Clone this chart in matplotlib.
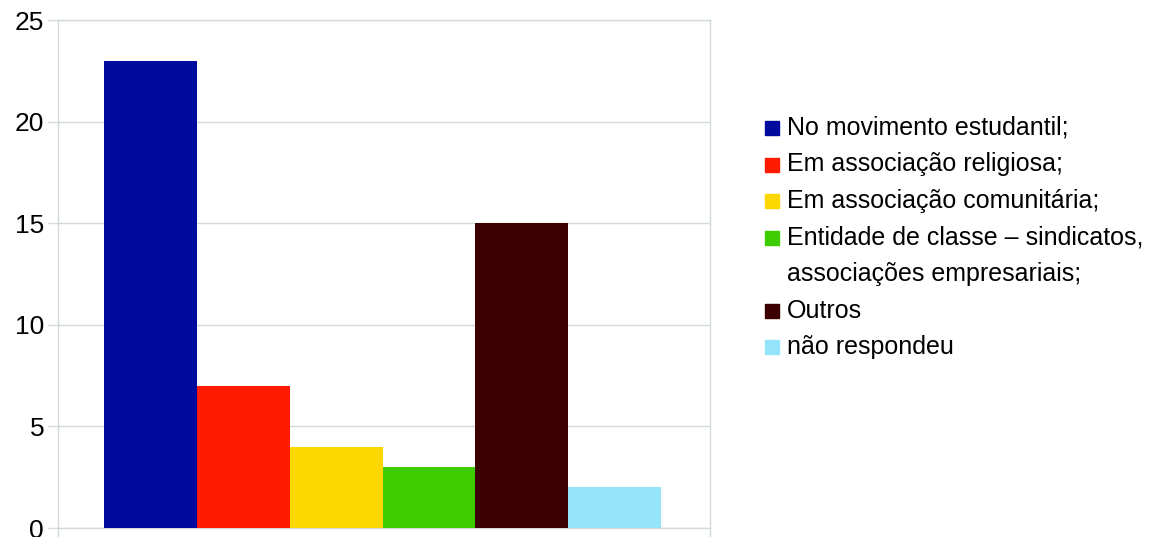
import matplotlib
matplotlib.use('Agg')
import matplotlib.pyplot as plt
from matplotlib.patches import Rectangle

# Dados do gráfico
categorias = ['No movimento estudantil;',
              'Em associação religiosa;',
              'Em associação comunitária;',
              'Entidade de classe – sindicatos,\nassociações empresariais;',
              'Outros',
              'não respondeu']
valores = [23, 7, 4, 3, 15, 2]
cores = ['#000a9c', '#ff1a00', '#fdd800', '#3ccc00', '#3d0000', '#94e5fc']
yticks = [0, 5, 10, 15, 20, 25]

plt.rcParams['font.family'] = ['Liberation Sans', 'DejaVu Sans']
grid_cor = '#d3dada'

fig = plt.figure(figsize=(11.57, 5.37), dpi=100)
ax = fig.add_axes([58 / 1157, 1 - 528 / 537, 652 / 1157, 508 / 537])

posicoes = list(range(len(valores)))
ax.bar(posicoes, valores, width=1.0, color=cores, zorder=3)

ax.set_ylim(0, 25)
ax.set_xlim(-0.5 - 46 / 93, len(valores) - 0.5 + 49 / 93)
ax.set_yticks(yticks)
ax.set_yticklabels([str(t) for t in yticks], fontsize=19)
ax.set_xticks(ax.get_xlim())
ax.set_xticklabels([])
ax.tick_params(axis='both', direction='out', length=7, color=grid_cor, width=1)
ax.tick_params(axis='y', pad=3)
ax.yaxis.grid(True, color=grid_cor, linewidth=1, zorder=0)
for s in ax.spines.values():
    s.set_color(grid_cor)
    s.set_linewidth(1)
    s.set_zorder(1)

# Legenda manual
x_quad = 765 / 1157
x_txt = 787 / 1157
y = 1 - 128 / 537
passo = 36.5 / 537
for label, cor in zip(categorias, cores):
    fig.patches.append(Rectangle((x_quad, y - 7 / 537), 14 / 1157, 14 / 537,
                                 transform=fig.transFigure, color=cor))
    linhas = label.split('\n')
    for k, linha in enumerate(linhas):
        fig.text(x_txt, y - k * passo, linha, fontsize=18, va='center', ha='left')
    y -= passo * len(linhas)

plt.savefig('out.png', dpi=100)
plt.close('all')
